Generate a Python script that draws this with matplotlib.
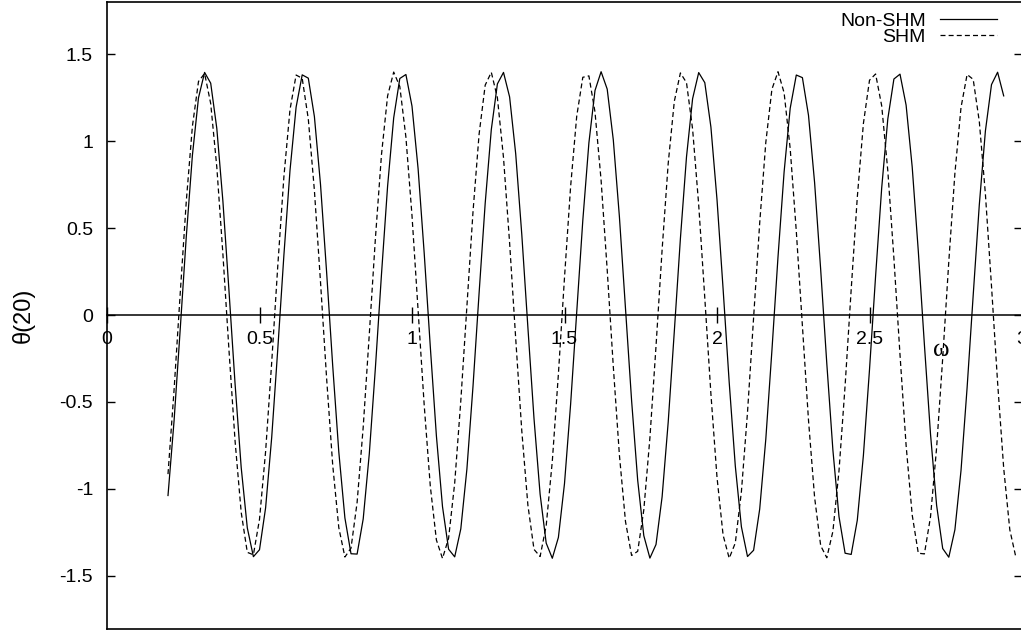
import matplotlib
matplotlib.use("Agg")
import matplotlib.pyplot as plt
import numpy as np

plt.rcParams["font.family"] = ["Liberation Sans", "DejaVu Sans"]
plt.rcParams["axes.unicode_minus"] = False

# theta(20) against omega, one point every 0.02 starting at omega = 0.2
omega_start = 0.20
omega_step = 0.02

non_shm = [
    -1.038, -0.606, -0.083, 0.452, 0.919, 1.250, 1.396, 1.334, 1.074, 0.655,
    0.138, -0.398, -0.877, -1.224, -1.390, -1.350, -1.109, -0.704, -0.194, 0.345,
    0.832, 1.196, 1.382, 1.363, 1.142, 0.752, 0.248, -0.291, -0.787, -1.167,
    -1.373, -1.375, -1.173, -0.798, -0.303, 0.236, 0.742, 1.135, 1.361, 1.384,
    1.202, 0.842, 0.356, -0.182, -0.695, -1.102, -1.347, -1.391, -1.230, -0.886,
    -0.410, 0.127, 0.644, 1.067, 1.330, 1.396, 1.255, 0.928, 0.463, -0.072,
    -0.595, -1.030, -1.312, -1.399, -1.279, -0.969, -0.514, 0.016, 0.544, 0.991,
    1.292, 1.400, 1.300, 1.008, 0.566, 0.039, -0.492, -0.951, -1.269, -1.398,
    -1.320, -1.046, -0.616, -0.095, 0.440, 0.910, 1.245, 1.395, 1.337, 1.082,
    0.665, 0.150, -0.387, -0.868, -1.218, -1.389, -1.353, -1.116, -0.714, -0.205,
    0.334, 0.823, 1.190, 1.381, 1.366, 1.149, 0.762, 0.260, -0.279, -0.777,
    -1.160, -1.370, -1.377, -1.180, -0.807, -0.314, 0.225, 0.732, 1.128, 1.358,
    1.386, 1.208, 0.852, 0.368, -0.170, -0.684, -1.094, -1.343, -1.393, -1.235,
    -0.895, -0.418, 0.115, 0.634, 1.059, 1.326, 1.397, 1.261,
]

shm = [
    -0.915, -0.428, 0.123, 0.656, 1.086, 1.344, 1.390, 1.217, 0.852, 0.351,
    -0.204, -0.727, -1.135, -1.365, -1.379, -1.175, -0.785, -0.272, 0.285, 0.796,
    1.182, 1.381, 1.362, 1.128, 0.717, 0.191, -0.363, -0.862, -1.223, -1.392,
    -1.341, -1.078, -0.645, -0.110, 0.441, 0.924, 1.261, 1.398, 1.315, 1.024,
    0.572, 0.029, -0.518, -0.984, -1.294, -1.400, -1.284, -0.966, -0.494, 0.053,
    0.594, 1.041, 1.323, 1.397, 1.250, 0.906, 0.416, -0.135, -0.667, -1.094,
    -1.348, -1.389, -1.211, -0.841, -0.339, 0.216, 0.738, 1.143, 1.368, 1.376,
    1.168, 0.775, 0.260, -0.296, -0.805, -1.188, -1.383, -1.359, -1.121, -0.707,
    -0.180, 0.375, 0.872, 1.229, 1.393, 1.337, 1.070, 0.634, 0.098, -0.453,
    -0.933, -1.266, -1.399, -1.311, -1.016, -0.560, -0.017, 0.530, 0.993, 1.299,
    1.400, 1.279, 0.957, 0.482, -0.066, -0.605, -1.049, -1.327, -1.396, -1.244,
    -0.896, -0.406, 0.148, 0.678, 1.102, 1.351, 1.387, 1.204, 0.831, 0.327,
    -0.228, -0.749, -1.150, -1.370, -1.374, -1.161, -0.764, -0.248, 0.308, 0.816,
    1.194, 1.384, 1.356, 1.114, 0.696, 0.167, -0.388, -0.881, -1.235, -1.394,
]

x_ticks = [0, 0.5, 1, 1.5, 2, 2.5, 3]
x_tick_labels = ["0", "0.5", "1", "1.5", "2", "2.5", "3"]
y_ticks = [-1.5, -1, -0.5, 0, 0.5, 1, 1.5]
y_tick_labels = ["-1.5", "-1", "-0.5", "0", "0.5", "1", "1.5"]

omega_shm = np.round(omega_start + omega_step * np.arange(len(shm)), 2)
omega_non_shm = np.round(omega_start + omega_step * np.arange(len(non_shm)), 2)

fig = plt.figure(figsize=(10.21, 6.31), dpi=100)
ax = fig.add_axes([107 / 1021, 2 / 631, 915 / 1021, 627.5 / 631])

ax.plot(omega_non_shm, non_shm, color="black", lw=0.9, label="Non-SHM")
ax.plot(omega_shm, shm, color="black", lw=0.9, dashes=(4, 2.5), label="SHM")

ax.set_xlim(0, 3)
ax.set_ylim(-1.806, 1.804)

for s in ax.spines.values():
    s.set_linewidth(1.2)

# y ticks on both sides, pointing in
ax.set_yticks(y_ticks, y_tick_labels)
ax.tick_params(axis="y", left=True, right=True, direction="in", length=5.8,
               width=1.0, pad=10, labelsize=14)
ax.tick_params(axis="x", bottom=False, top=False, labelbottom=False)

# x axis drawn through zero
sec = ax.secondary_xaxis(0, transform=ax.transData)
sec.set_xticks(x_ticks, x_tick_labels)
sec.tick_params(direction="inout", length=11.5, width=1.0, pad=6, labelsize=14)
sec.spines["bottom"].set_linewidth(1.1)

ax.set_ylabel("θ(20)", fontsize=17)
ax.yaxis.set_label_coords(-0.079, 0.5)
ax.text(0.9115, 0.4446, "ω", transform=ax.transAxes, ha="center", va="center",
        fontsize=18, family=["Liberation Serif", "DejaVu Serif"])

ax.legend(loc="upper right", bbox_to_anchor=(0.9727, 0.983), frameon=False,
          markerfirst=False, handlelength=2.94, handletextpad=0.72,
          labelspacing=-0.08, borderpad=0, borderaxespad=0, fontsize=14)

fig.savefig("out.png", dpi=100)
